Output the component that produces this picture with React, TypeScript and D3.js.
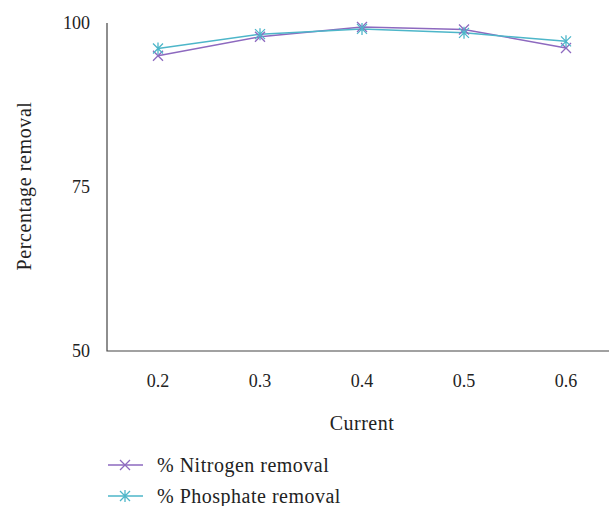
import React from "react";
import * as d3 from "d3";

const categories = ["0.2", "0.3", "0.4", "0.5", "0.6"];
const nitrogen = [95.0, 97.9, 99.4, 99.0, 96.2];
const phosphate = [96.1, 98.3, 99.1, 98.5, 97.2];
const yTicks = [50, 75, 100];
const seriesNames = ["% Nitrogen removal", "% Phosphate removal"];
const colors = ["#8d69bf", "#4db6c9"];

const W = 609, H = 506;
const left = 107, right = 617, top = 23, bottom = 351;
const font = "'Liberation Serif', 'DejaVu Serif', serif";

function XMark({ x, y, c, s = 5 }: any) {
  return <path d={`M${x - s},${y - s}L${x + s},${y + s}M${x - s},${y + s}L${x + s},${y - s}`} stroke={c} strokeWidth={1.3} fill="none" />;
}
function StarMark({ x, y, c, s = 5 }: any) {
  return <path d={`M${x - s},${y - s}L${x + s},${y + s}M${x - s},${y + s}L${x + s},${y - s}M${x},${y - s - 1}L${x},${y + s + 1}`} stroke={c} strokeWidth={1.3} fill="none" />;
}

export default function App() {
  const x = d3.scaleBand().domain(categories).range([left, right]);
  const y = d3.scaleLinear().domain([50, 100]).range([bottom, top]);
  const cx = (c: string) => (x(c) as number) + x.bandwidth() / 2;
  const line = d3.line<number>().x((_, i) => cx(categories[i])).y((v) => y(v));
  return (
    <svg width={W} height={H} style={{ position: "absolute", left: 0, top: 0 }} fontFamily={font}>
      <path d={`M${left},${top}V${bottom}H${W}`} stroke="#444" strokeWidth={1.2} fill="none" />
      {yTicks.map((t) => (
        <text key={t} x={90} y={y(t)} dy="0.35em" textAnchor="end" fontSize={18} fill="#222">{t}</text>
      ))}
      {categories.map((c) => (
        <text key={c} x={cx(c)} y={381} dy="0.35em" textAnchor="middle" fontSize={18} fill="#222">{c}</text>
      ))}
      <text x={362} y={423} dy="0.35em" textAnchor="middle" fontSize={20} letterSpacing={0.5} fill="#222">Current</text>
      <text transform={`translate(24,${186}) rotate(-90)`} dy="0.35em" textAnchor="middle" fontSize={20} letterSpacing={0.6} fill="#222">Percentage removal</text>
      <path d={line(nitrogen) || ""} stroke={colors[0]} strokeWidth={1.5} fill="none" />
      <path d={line(phosphate) || ""} stroke={colors[1]} strokeWidth={1.5} fill="none" />
      {nitrogen.map((v, i) => <XMark key={"n" + i} x={cx(categories[i])} y={y(v)} c={colors[0]} />)}
      {phosphate.map((v, i) => <StarMark key={"p" + i} x={cx(categories[i])} y={y(v)} c={colors[1]} />)}
      {seriesNames.map((n, i) => {
        const ly = 465 + i * 31;
        return (
          <g key={n}>
            <line x1={108} x2={143} y1={ly} y2={ly} stroke={colors[i]} strokeWidth={1.5} />
            {i === 0 ? <XMark x={125} y={ly} c={colors[i]} /> : <StarMark x={125} y={ly} c={colors[i]} />}
            <text x={157} y={ly} dy="0.35em" fontSize={20} letterSpacing={0.5} fill="#222">{n}</text>
          </g>
        );
      })}
    </svg>
  );
}
